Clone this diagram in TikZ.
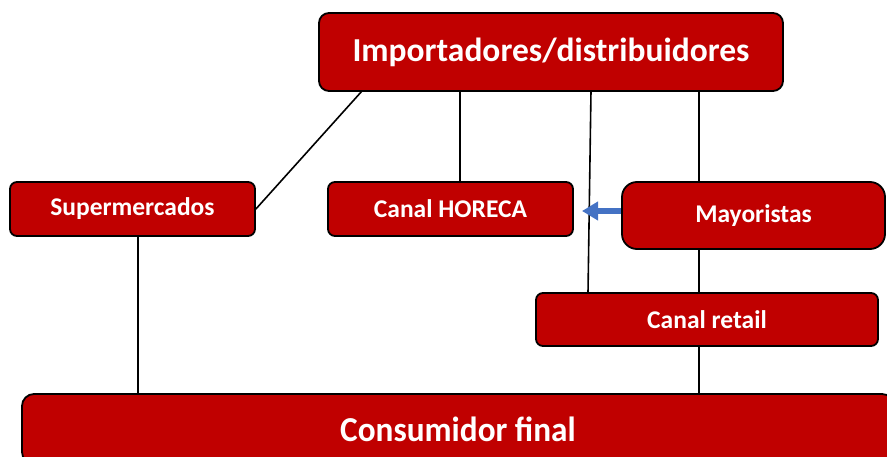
\documentclass[tikz,border=0pt]{standalone}
\usepackage{fontspec}
\setmainfont{Carlito}
\usetikzlibrary{arrows.meta,calc}
\definecolor{boxred}{HTML}{C00000}
\definecolor{arrowblue}{HTML}{4472C4}
\tikzset{
  redbox/.style={draw=black, line width=1.8pt, fill=boxred, text=white, font=\bfseries,
    rounded corners=#1, inner sep=0pt, anchor=center},
  redbox/.default=7pt,
  link/.style={draw=black, line width=1.6pt},
  smalltxt/.style={font=\bfseries\fontsize{25.5}{28}\selectfont},
}
\begin{document}
\begin{tikzpicture}[x=1pt,y=-1pt]
\useasboundingbox (0,0) rectangle (887,457);
\node[redbox=10pt, minimum width=464pt, minimum height=78pt, font=\bfseries\fontsize{33.5}{36}\selectfont] (imp) at (551,52) {Importadores/distribuidores};
\node[redbox, minimum width=245pt, minimum height=54pt, smalltxt] (sup) at (132.5,209) {Supermercados};
\node[redbox, minimum width=245pt, minimum height=54pt, smalltxt] (hor) at (450.5,209) {Canal HORECA};
\node[redbox=15pt, minimum width=263pt, minimum height=67pt, smalltxt] (may) at (753.5,215.5) {Mayoristas};
\node[redbox, minimum width=342pt, minimum height=53pt, smalltxt] (ret) at (707,319.5) {Canal retail};
\node[redbox=12pt, minimum width=872pt, minimum height=70pt, font=\bfseries\fontsize{35}{38}\selectfont] (con) at (458,429) {\scalebox{0.95}[1]{Consumidor final}};
% connection points
\coordinate (a1) at (362,91);
\coordinate (a2) at (591,91);
\coordinate (a3) at (588,293);
\coordinate (h1) at (460,0);
\coordinate (m1) at (699,0);
\coordinate (s1) at (138,0);
\coordinate (bt) at (582,211);
\draw[link] (a1) -- (sup.east);
\draw[link] (imp.south -| h1) -- (hor.north -| h1);
\draw[link] (a2) -- (a3);
\draw[link] (imp.south -| m1) -- (may.north -| m1);
\draw[link] (may.south -| m1) -- (ret.north -| m1);
\draw[link] (ret.south -| m1) -- (con.north -| m1);
\draw[link] (sup.south -| s1) -- (con.north -| s1);
\draw[arrowblue, line width=6pt, -{Triangle[width=18pt,length=16pt]}] (may.west |- bt) -- (bt);
\end{tikzpicture}
\end{document}
